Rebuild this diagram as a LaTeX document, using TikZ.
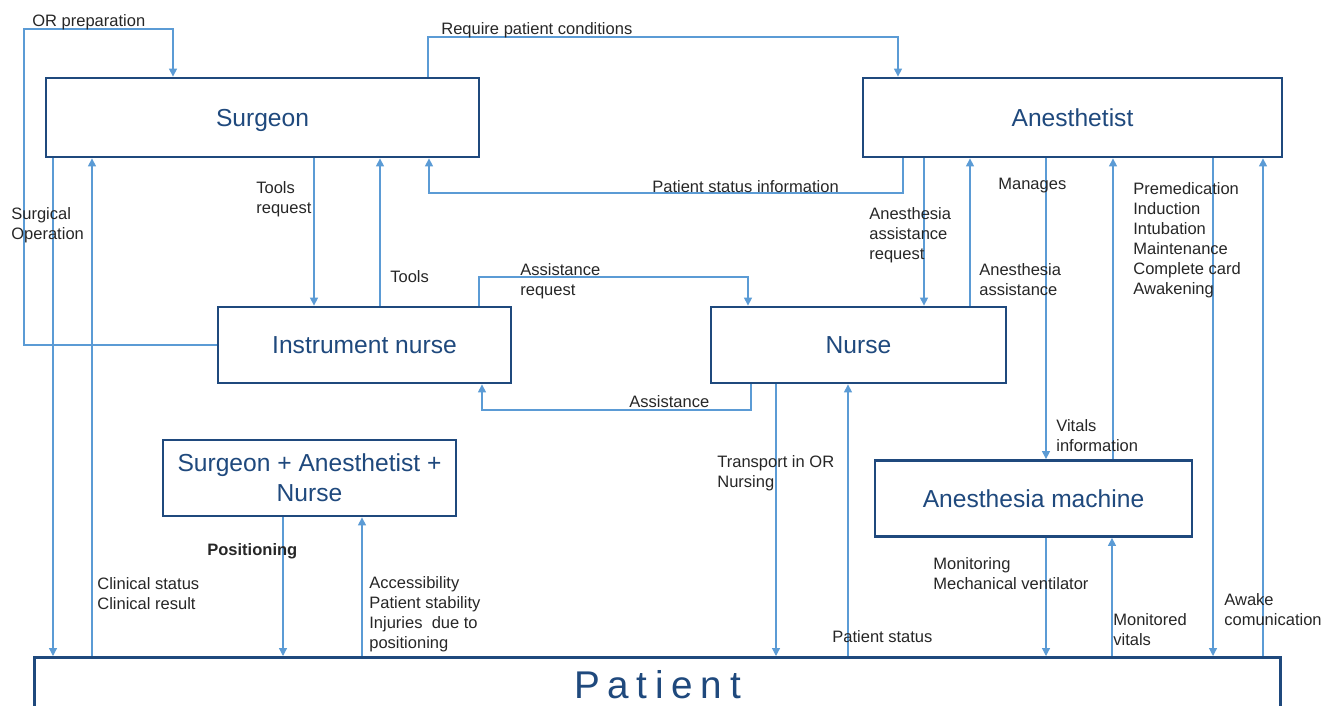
\documentclass[tikz,border=0pt]{standalone}
\usepackage{fontspec}
\setmainfont{Liberation Sans}
\usetikzlibrary{arrows.meta}
\definecolor{boxblue}{RGB}{31,73,125}
\definecolor{lineblue}{RGB}{91,155,213}

\begin{document}
\begin{tikzpicture}[x=0.02cm,y=-0.02cm,
    box/.style={draw=boxblue,line width=1.6pt,fill=white,text=boxblue,align=center,inner sep=0pt,
      font=\fontsize{14}{17}\selectfont},
    onebox/.style={box,text height=10pt,text depth=0pt},
    flow/.style={draw=lineblue,line width=0.7pt,-{Triangle[length=4.5pt,width=4.5pt]}},
    lbl/.style={anchor=north west,inner sep=0pt,align=left,text=black!85,
      font=\fontsize{9.4}{11.4}\selectfont}]
      \useasboundingbox (0,0) rectangle (1332,706);
      \clip (0,0) rectangle (1332,706);
      % actors
      \node[onebox,minimum width=8.66cm,minimum height=1.58cm] (surgeon) at (262.5,117.5) {Surgeon};
      \node[onebox,minimum width=8.38cm,minimum height=1.58cm] (anest) at (1072.5,117.5) {Anesthetist};
      \node[onebox,minimum width=5.86cm,minimum height=1.52cm] (inurse) at (364.5,345) {Instrument nurse};
      \node[onebox,minimum width=5.9cm,minimum height=1.52cm] (nurse) at (858.5,345) {Nurse};
      \node[box,minimum width=5.86cm,minimum height=1.52cm] (team) at (309.5,478) {Surgeon + Anesthetist +\\Nurse};
      \node[onebox,minimum width=6.34cm,minimum height=1.52cm] (machine) at (1033.5,498.5) {Anesthesia machine};
      \node[box,anchor=north,minimum width=24.94cm,text height=16pt,text depth=50pt,inner ysep=7.5pt,
        font=\fontsize{22}{26}\selectfont\addfontfeature{LetterSpace=20}] (patient) at (657.5,656) {Patient};
      % elbow corners
      \coordinate (orprep) at (24,29);
      \coordinate (reqpc) at (898,37);
      \coordinate (psinfo) at (429,193);
      \coordinate (assreq) at (748,277);
      \coordinate (assist) at (482,410);
      % connectors
      \draw[flow] (inurse.west) -| (orprep) -| (surgeon.north -| 173,0);
      \draw[flow] (surgeon.north -| 428,0) |- (reqpc) -- (anest.north -| reqpc);
      \draw[flow] (anest.south -| 903,0) |- (psinfo) -- (surgeon.south -| psinfo);
      \draw[flow] (inurse.north -| 479,0) |- (assreq) -- (nurse.north -| assreq);
      \draw[flow] (nurse.south -| 751,0) |- (assist) -- (inurse.south -| assist);
      \draw[flow] (surgeon.south -| 314,0) -- (inurse.north -| 314,0);
      \draw[flow] (inurse.north -| 380,0) -- (surgeon.south -| 380,0);
      \draw[flow] (surgeon.south -| 53,0) -- (patient.north -| 53,0);
      \draw[flow] (patient.north -| 92,0) -- (surgeon.south -| 92,0);
      \draw[flow] (anest.south -| 924,0) -- (nurse.north -| 924,0);
      \draw[flow] (nurse.north -| 970,0) -- (anest.south -| 970,0);
      \draw[flow] (anest.south -| 1046,0) -- (machine.north -| 1046,0);
      \draw[flow] (machine.north -| 1113,0) -- (anest.south -| 1113,0);
      \draw[flow] (anest.south -| 1213,0) -- (patient.north -| 1213,0);
      \draw[flow] (patient.north -| 1263,0) -- (anest.south -| 1263,0);
      \draw[flow] (machine.south -| 1046,0) -- (patient.north -| 1046,0);
      \draw[flow] (patient.north -| 1112,0) -- (machine.south -| 1112,0);
      \draw[flow] (nurse.south -| 776,0) -- (patient.north -| 776,0);
      \draw[flow] (patient.north -| 848,0) -- (nurse.south -| 848,0);
      \draw[flow] (team.south -| 283,0) -- (patient.north -| 283,0);
      \draw[flow] (patient.north -| 362,0) -- (team.south -| 362,0);
      % labels
      \node[lbl] (lorp) at (32,14) {OR preparation};
      \node[lbl] (lreq) at (441,22) {Require patient conditions};
      \node[lbl] (lpsi) at (652,180) {Patient status information};
      \node[lbl] (ltreq) at (256,181) {Tools\\request};
      \node[lbl] (lsurg) at (11,207) {Surgical\\Operation};
      \node[lbl] (ltools) at (390,270) {Tools};
      \node[lbl] (lareq) at (520,263) {Assistance\\request};
      \node[lbl] (lass) at (629,395) {Assistance};
      \node[lbl] (lanreq) at (869,207) {Anesthesia\\assistance\\request};
      \node[lbl] (lanass) at (979,263) {Anesthesia\\assistance};
      \node[lbl] (lman) at (998,178) {Manages};
      \node[lbl] (lpre) at (1133,182) {Premedication\\Induction\\Intubation\\Maintenance\\Complete card\\Awakening};
      \node[lbl] (lvit) at (1056,419) {Vitals\\information};
      \node[lbl] (lmon) at (933,557) {Monitoring\\Mechanical ventilator};
      \node[lbl] (lmvit) at (1113,613) {Monitored\\vitals};
      \node[lbl] (lawake) at (1224,593) {Awake\\comunication};
      \node[lbl] (lpst) at (832,630) {Patient status};
      \node[lbl] (ltrans) at (717,455) {Transport in OR\\Nursing};
      \node[lbl,font=\fontsize{9.4}{11.4}\selectfont\bfseries] (lpos) at (207,543) {Positioning};
      \node[lbl] (lclin) at (97,577) {Clinical status\\Clinical result};
      \node[lbl] (lacc) at (369,576) {Accessibility\\Patient stability\\Injuries\ \ due to\\positioning};
\end{tikzpicture}
\end{document}
